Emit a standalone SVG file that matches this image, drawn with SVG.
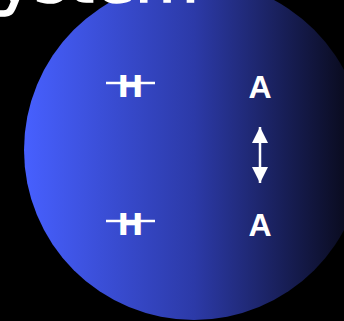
<svg xmlns="http://www.w3.org/2000/svg" width="344" height="321" viewBox="0 0 344 321">
  <defs>
    <linearGradient id="ball" x1="0" y1="0" x2="1" y2="0">
      <stop offset="0" stop-color="#4760ff"/>
      <stop offset="0.5" stop-color="#2c3aa8"/>
      <stop offset="1" stop-color="#06060f"/>
    </linearGradient>
    <marker id="ah" viewBox="0 0 16 16" refX="16" refY="8" markerWidth="16" markerHeight="16" markerUnits="userSpaceOnUse" orient="auto-start-reverse">
      <path d="M0,0 L16,8 L0,16 Z" fill="#fff"/>
    </marker>
  </defs>
  <style>
    .lbl { font-family: "Liberation Sans", Arial, sans-serif; font-weight: bold; font-size: 32px; fill: #fff; text-anchor: middle; }
    .hl { font-family: "DejaVu Sans", sans-serif; font-weight: bold; font-size: 31px; fill: #fff; text-anchor: middle; }
    .bar { stroke: #fff; stroke-width: 2.5; }
    .conn { stroke: #fff; stroke-width: 2.5; fill: none; }
  </style>
  <rect width="344" height="321" fill="#000"/>
  <g id="sphere">
    <circle cx="194" cy="150" r="170" fill="url(#ball)"/>
  </g>
  <g id="title">
    <text x="-47" y="1.5" font-family="DejaVu Sans, sans-serif" font-weight="normal" font-size="66" fill="#fff" stroke="#fff" stroke-width="1.5">System</text>
  </g>
  <g id="h1">
    <text class="hl" x="130.5" y="97">H</text>
    <line class="bar" x1="106" y1="83" x2="155" y2="83"/>
  </g>
  <g id="h2">
    <text class="hl" x="130.5" y="235">H</text>
    <line class="bar" x1="106" y1="221" x2="155" y2="221"/>
  </g>
  <g id="a1">
    <text class="lbl" x="260" y="98">A</text>
  </g>
  <g id="a2">
    <text class="lbl" x="260" y="236">A</text>
  </g>
  <g id="connectors">
    <line class="conn" x1="260" y1="127" x2="260" y2="183" marker-start="url(#ah)" marker-end="url(#ah)"/>
  </g>
</svg>
